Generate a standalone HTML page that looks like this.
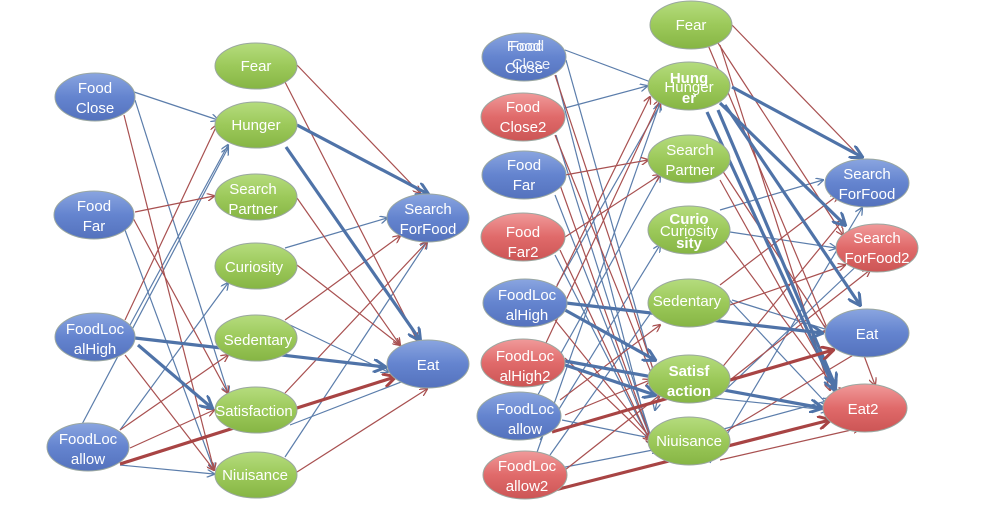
<!DOCTYPE html>
<html><head><meta charset="utf-8"><style>
html,body{margin:0;padding:0;background:#fff}
svg{display:block}
text{font-family:"Liberation Sans",sans-serif;font-size:15px;fill:#fff;text-anchor:middle}
</style></head><body>
<svg width="988" height="531" viewBox="0 0 988 531" xmlns="http://www.w3.org/2000/svg">
<defs>
<linearGradient id="gb" x1="0" y1="0" x2="0" y2="1"><stop offset="0" stop-color="#8aa5e0"/><stop offset="0.5" stop-color="#6484cf"/><stop offset="1" stop-color="#5472bd"/></linearGradient>
<linearGradient id="gg" x1="0" y1="0" x2="0" y2="1"><stop offset="0" stop-color="#b5dc7e"/><stop offset="0.5" stop-color="#9cc95a"/><stop offset="1" stop-color="#86b544"/></linearGradient>
<linearGradient id="gr" x1="0" y1="0" x2="0" y2="1"><stop offset="0" stop-color="#f09a9a"/><stop offset="0.5" stop-color="#e06a6a"/><stop offset="1" stop-color="#cc5555"/></linearGradient>
<marker id="ab" markerWidth="8" markerHeight="8" refX="7" refY="4" orient="auto" markerUnits="userSpaceOnUse"><path d="M0,0 L8,4 L0,8" fill="none" stroke="#5b7dab" stroke-width="1.3"/></marker>
<marker id="ar" markerWidth="8" markerHeight="8" refX="7" refY="4" orient="auto" markerUnits="userSpaceOnUse"><path d="M0,0 L8,4 L0,8" fill="none" stroke="#a85050" stroke-width="1.3"/></marker>
<marker id="abT" markerWidth="14" markerHeight="14" refX="12" refY="7" orient="auto" markerUnits="userSpaceOnUse"><path d="M0,0 L13,7 L0,14" fill="none" stroke="#4f73a8" stroke-width="3"/></marker>
<marker id="arT" markerWidth="14" markerHeight="14" refX="12" refY="7" orient="auto" markerUnits="userSpaceOnUse"><path d="M0,0 L13,7 L0,14" fill="none" stroke="#a84444" stroke-width="3"/></marker>
</defs>
<g fill="none" stroke-width="1.2">
<!-- LEFT thin blue -->
<g stroke="#5b7dab" marker-end="url(#ab)">
<line x1="134" y1="92" x2="218" y2="120"/>
<line x1="135" y1="100" x2="228" y2="393"/>
<line x1="125" y1="230" x2="214" y2="470"/>
<line x1="130" y1="325" x2="228" y2="145"/>
<line x1="80" y1="428" x2="228" y2="148"/>
<line x1="120" y1="430" x2="228" y2="283"/>
<line x1="120" y1="465" x2="214" y2="474"/>
<line x1="285" y1="248" x2="387" y2="218"/>
<line x1="290" y1="325" x2="388" y2="372"/>
<line x1="290" y1="425" x2="427" y2="372"/>
<line x1="285" y1="457" x2="427" y2="242"/>
</g>
<g stroke="#a85050" marker-end="url(#ar)">
<line x1="124" y1="115" x2="214" y2="470"/>
<line x1="135" y1="212" x2="214" y2="196"/>
<line x1="133" y1="218" x2="228" y2="393"/>
<line x1="125" y1="320" x2="217" y2="125"/>
<line x1="125" y1="355" x2="214" y2="470"/>
<line x1="120" y1="430" x2="228" y2="355"/>
<line x1="130" y1="448" x2="214" y2="410"/>
<line x1="297" y1="65" x2="420" y2="193"/>
<line x1="285" y1="82" x2="417" y2="340"/>
<line x1="297" y1="198" x2="400" y2="345"/>
<line x1="297" y1="265" x2="400" y2="345"/>
<line x1="285" y1="320" x2="400" y2="236"/>
<line x1="285" y1="393" x2="427" y2="242"/>
<line x1="297" y1="472" x2="427" y2="389"/>
</g>
<!-- RIGHT thin blue -->
<g stroke="#5b7dab" marker-end="url(#ab)">
<line x1="565" y1="50" x2="656" y2="84"/>
<line x1="566" y1="60" x2="660" y2="395"/>
<line x1="556" y1="75" x2="650" y2="440"/>
<line x1="565" y1="108" x2="647" y2="86"/>
<line x1="556" y1="135" x2="652" y2="440"/>
<line x1="555" y1="195" x2="652" y2="442"/>
<line x1="555" y1="255" x2="652" y2="445"/>
<line x1="557" y1="285" x2="660" y2="105"/>
<line x1="535" y1="400" x2="660" y2="175"/>
<line x1="540" y1="440" x2="660" y2="245"/>
<line x1="550" y1="455" x2="660" y2="300"/>
<line x1="535" y1="458" x2="660" y2="103"/>
<line x1="550" y1="470" x2="658" y2="449"/>
<line x1="562" y1="420" x2="660" y2="440"/>
<line x1="660" y1="390" x2="655" y2="410"/>
<line x1="720" y1="210" x2="823" y2="180"/>
<line x1="730" y1="232" x2="836" y2="248"/>
<line x1="720" y1="290" x2="828" y2="405"/>
<line x1="732" y1="300" x2="828" y2="330"/>
<line x1="720" y1="395" x2="865" y2="258"/>
<line x1="720" y1="430" x2="830" y2="400"/>
<line x1="710" y1="463" x2="862" y2="208"/>
<line x1="685" y1="395" x2="828" y2="410"/>
</g>
<g stroke="#a85050" marker-end="url(#ar)">
<line x1="555" y1="75" x2="660" y2="390"/>
<line x1="555" y1="135" x2="660" y2="395"/>
<line x1="565" y1="175" x2="648" y2="160"/>
<line x1="560" y1="185" x2="652" y2="442"/>
<line x1="565" y1="237" x2="660" y2="175"/>
<line x1="560" y1="250" x2="652" y2="445"/>
<line x1="555" y1="290" x2="650" y2="97"/>
<line x1="555" y1="320" x2="652" y2="440"/>
<line x1="565" y1="358" x2="650" y2="440"/>
<line x1="545" y1="345" x2="660" y2="100"/>
<line x1="560" y1="400" x2="660" y2="325"/>
<line x1="565" y1="415" x2="650" y2="380"/>
<line x1="565" y1="470" x2="660" y2="395"/>
<line x1="732" y1="25" x2="862" y2="159"/>
<line x1="708" y1="45" x2="830" y2="335"/>
<line x1="718" y1="43" x2="843" y2="235"/>
<line x1="720" y1="45" x2="830" y2="390"/>
<line x1="722" y1="170" x2="830" y2="335"/>
<line x1="720" y1="180" x2="840" y2="395"/>
<line x1="725" y1="240" x2="840" y2="395"/>
<line x1="720" y1="285" x2="838" y2="195"/>
<line x1="730" y1="305" x2="845" y2="265"/>
<line x1="720" y1="370" x2="843" y2="220"/>
<line x1="730" y1="380" x2="870" y2="270"/>
<line x1="720" y1="435" x2="865" y2="348"/>
<line x1="720" y1="460" x2="860" y2="428"/>
<line x1="860" y1="345" x2="875" y2="385"/>
</g>
</g>
<!-- thick -->
<g fill="none" stroke-width="3.2">
<g stroke="#4f73a8" marker-end="url(#abT)">
<line x1="297" y1="125" x2="428" y2="194"/>
<line x1="286" y1="147" x2="420" y2="340"/>
<line x1="135" y1="338" x2="385" y2="367"/>
<line x1="138" y1="345" x2="212" y2="408"/>
<line x1="732" y1="87" x2="862" y2="157"/>
<line x1="720" y1="103" x2="845" y2="225"/>
<line x1="725" y1="105" x2="860" y2="305"/>
<line x1="707" y1="112" x2="835" y2="390"/>
<line x1="718" y1="110" x2="835" y2="385"/>
<line x1="566" y1="303" x2="822" y2="333"/>
<line x1="565" y1="310" x2="655" y2="360"/>
<line x1="565" y1="361" x2="822" y2="408"/>
<line x1="565" y1="365" x2="655" y2="395"/>
</g>
<g stroke="#a84444" marker-end="url(#arT)">
<line x1="120" y1="464" x2="395" y2="377"/>
<line x1="552" y1="432" x2="833" y2="350"/>
<line x1="555" y1="490" x2="830" y2="420"/>
</g>
</g>
<!-- nodes left -->
<g stroke="#9aa7a0" stroke-width="1">
<ellipse cx="95" cy="97" rx="40" ry="24" fill="url(#gb)"/>
<ellipse cx="94" cy="215" rx="40" ry="24" fill="url(#gb)"/>
<ellipse cx="95" cy="337" rx="40" ry="24" fill="url(#gb)"/>
<ellipse cx="88" cy="447" rx="41" ry="24" fill="url(#gb)"/>
<ellipse cx="256" cy="66" rx="41" ry="23" fill="url(#gg)"/>
<ellipse cx="256" cy="125" rx="41" ry="23" fill="url(#gg)"/>
<ellipse cx="256" cy="197" rx="41" ry="23" fill="url(#gg)"/>
<ellipse cx="256" cy="266" rx="41" ry="23" fill="url(#gg)"/>
<ellipse cx="256" cy="338" rx="41" ry="23" fill="url(#gg)"/>
<ellipse cx="256" cy="410" rx="41" ry="23" fill="url(#gg)"/>
<ellipse cx="256" cy="475" rx="41" ry="23" fill="url(#gg)"/>
<ellipse cx="428" cy="218" rx="41" ry="24" fill="url(#gb)"/>
<ellipse cx="428" cy="364" rx="41" ry="24" fill="url(#gb)"/>
<!-- right -->
<ellipse cx="524" cy="57" rx="42" ry="24" fill="url(#gb)"/>
<ellipse cx="523" cy="117" rx="42" ry="24" fill="url(#gr)"/>
<ellipse cx="524" cy="175" rx="42" ry="24" fill="url(#gb)"/>
<ellipse cx="523" cy="237" rx="42" ry="24" fill="url(#gr)"/>
<ellipse cx="525" cy="303" rx="42" ry="24" fill="url(#gb)"/>
<ellipse cx="523" cy="363" rx="42" ry="24" fill="url(#gr)"/>
<ellipse cx="519" cy="416" rx="42" ry="24" fill="url(#gb)"/>
<ellipse cx="525" cy="475" rx="42" ry="24" fill="url(#gr)"/>
<ellipse cx="691" cy="25" rx="41" ry="24" fill="url(#gg)"/>
<ellipse cx="689" cy="86" rx="41" ry="24" fill="url(#gg)"/>
<ellipse cx="689" cy="159" rx="41" ry="24" fill="url(#gg)"/>
<ellipse cx="689" cy="230" rx="41" ry="24" fill="url(#gg)"/>
<ellipse cx="689" cy="303" rx="41" ry="24" fill="url(#gg)"/>
<ellipse cx="689" cy="379" rx="41" ry="24" fill="url(#gg)"/>
<ellipse cx="689" cy="441" rx="41" ry="24" fill="url(#gg)"/>
<ellipse cx="867" cy="183" rx="42" ry="24" fill="url(#gb)"/>
<ellipse cx="877" cy="248" rx="41" ry="24" fill="url(#gr)"/>
<ellipse cx="867" cy="333" rx="42" ry="24" fill="url(#gb)"/>
<ellipse cx="865" cy="408" rx="42" ry="24" fill="url(#gr)"/>
</g>
<g>
<text x="95" y="93">Food</text><text x="95" y="113">Close</text>
<text x="94" y="211">Food</text><text x="94" y="231">Far</text>
<text x="95" y="334">FoodLoc</text><text x="95" y="354">alHigh</text>
<text x="88" y="444">FoodLoc</text><text x="88" y="464">allow</text>
<text x="256" y="71">Fear</text>
<text x="256" y="130">Hunger</text>
<text x="253" y="194">Search</text><text x="253" y="214">Partner</text>
<text x="254" y="272">Curiosity</text>
<text x="258" y="345">Sedentary</text>
<text x="254" y="416">Satisfaction</text>
<text x="255" y="480">Niuisance</text>
<text x="428" y="214">Search</text><text x="428" y="234">ForFood</text>
<text x="428" y="370">Eat</text>
<text x="524" y="51">Food</text><text x="524" y="73">Close</text>
<text x="527" y="51" opacity="0.85">Food</text><text x="531" y="69" opacity="0.85">Close</text>
<text x="523" y="112">Food</text><text x="523" y="132">Close2</text>
<text x="524" y="170">Food</text><text x="524" y="190">Far</text>
<text x="523" y="237">Food</text><text x="523" y="257">Far2</text>
<text x="527" y="300">FoodLoc</text><text x="527" y="320">alHigh</text>
<text x="525" y="361">FoodLoc</text><text x="525" y="381">alHigh2</text>
<text x="525" y="414">FoodLoc</text><text x="525" y="434">allow</text>
<text x="527" y="471">FoodLoc</text><text x="527" y="491">allow2</text>
<text x="691" y="30">Fear</text>
<text x="689" y="92">Hunger</text>
<text x="689" y="83" font-weight="bold" font-size="14">Hung</text><text x="689" y="103" font-weight="bold" font-size="14">er</text>
<text x="690" y="155">Search</text><text x="690" y="175">Partner</text>
<text x="689" y="236">Curiosity</text>
<text x="689" y="224" font-weight="bold" font-size="15">Curio</text><text x="689" y="248" font-weight="bold" font-size="15">sity</text>
<text x="687" y="306">Sedentary</text>
<text x="689" y="376" font-weight="bold" font-size="14">Satisf</text><text x="689" y="396" font-weight="bold" font-size="14">action</text>
<text x="689" y="446">Niuisance</text>
<text x="867" y="179">Search</text><text x="867" y="199">ForFood</text>
<text x="877" y="243">Search</text><text x="877" y="263">ForFood2</text>
<text x="867" y="339">Eat</text>
<text x="863" y="414">Eat2</text>
</g>
</svg>
</body></html>
